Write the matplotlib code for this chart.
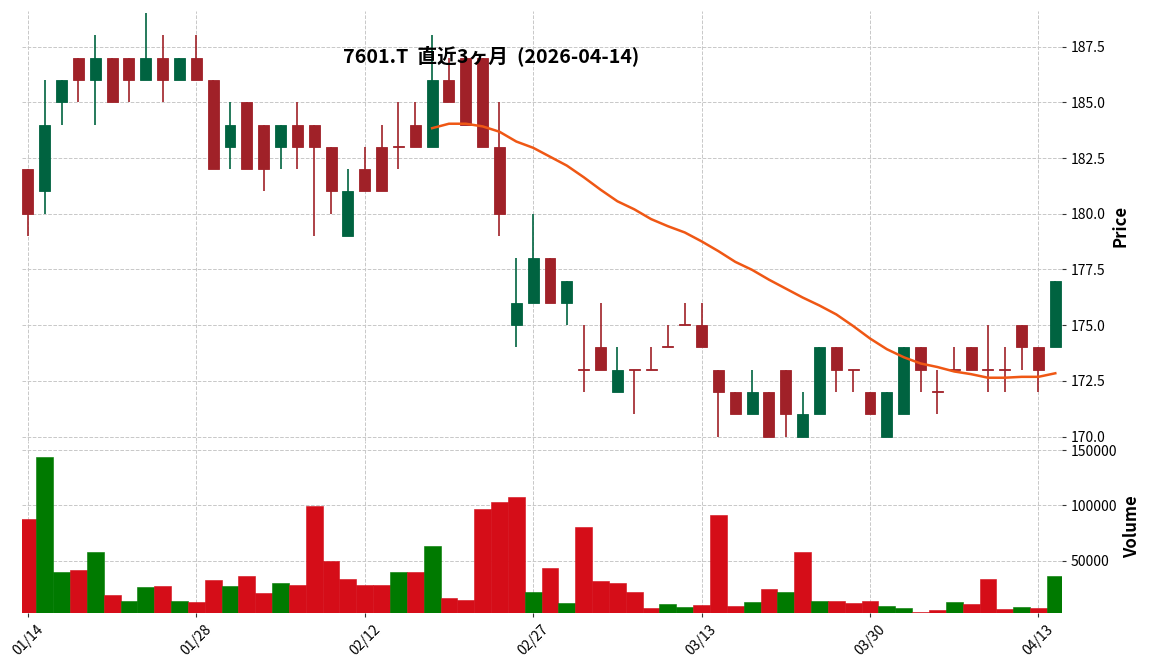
import numpy as np
import pandas as pd
import matplotlib
matplotlib.use('Agg')
import matplotlib.pyplot as plt
from matplotlib.ticker import MultipleLocator, FormatStrFormatter, FixedLocator

plt.rcParams['font.family'] = ['Noto Sans CJK JP', 'DejaVu Sans']

# trading days shown on the chart (Tokyo market)
dates = [
    '2026-01-14', '2026-01-15', '2026-01-16', '2026-01-19', '2026-01-20', '2026-01-21',
    '2026-01-22', '2026-01-23', '2026-01-26', '2026-01-27', '2026-01-28', '2026-01-29',
    '2026-01-30', '2026-02-02', '2026-02-03', '2026-02-04', '2026-02-05', '2026-02-06',
    '2026-02-09', '2026-02-10', '2026-02-12', '2026-02-13', '2026-02-16', '2026-02-17',
    '2026-02-18', '2026-02-19', '2026-02-20', '2026-02-24', '2026-02-25', '2026-02-26',
    '2026-02-27', '2026-03-02', '2026-03-03', '2026-03-04', '2026-03-05', '2026-03-06',
    '2026-03-09', '2026-03-10', '2026-03-11', '2026-03-12', '2026-03-13', '2026-03-16',
    '2026-03-17', '2026-03-18', '2026-03-19', '2026-03-23', '2026-03-24', '2026-03-25',
    '2026-03-26', '2026-03-27', '2026-03-30', '2026-03-31', '2026-04-01', '2026-04-02',
    '2026-04-03', '2026-04-06', '2026-04-07', '2026-04-08', '2026-04-09', '2026-04-10',
    '2026-04-13', '2026-04-14',
]

opens = [182, 181, 185, 187, 186, 187, 187, 186, 187, 186, 187, 186, 183, 185, 184, 183,
         184, 184, 183, 179, 182, 183, 183, 184, 183, 186, 187, 187, 183, 175, 176, 178,
         176, 173, 174, 172, 173, 173, 174, 175, 175, 173, 172, 171, 172, 173, 170, 171,
         174, 173, 172, 170, 171, 174, 172, 173, 174, 173, 173, 175, 174, 174]
highs = [182, 186, 186, 187, 188, 187, 187, 189, 188, 187, 188, 186, 185, 185, 184, 184,
         185, 184, 183, 182, 183, 184, 185, 185, 188, 187, 187, 187, 185, 178, 180, 178,
         177, 175, 176, 174, 173, 174, 175, 176, 176, 173, 172, 173, 172, 173, 172, 174,
         174, 173, 172, 172, 174, 174, 173, 174, 174, 175, 174, 175, 174, 177]
lows = [179, 180, 184, 185, 184, 185, 185, 186, 185, 186, 186, 182, 182, 182, 181, 182,
        182, 179, 180, 179, 181, 181, 182, 183, 183, 185, 184, 183, 179, 174, 176, 176,
        175, 172, 173, 172, 171, 173, 174, 175, 174, 170, 171, 171, 170, 170, 170, 171,
        172, 172, 171, 170, 171, 172, 171, 173, 173, 172, 172, 173, 172, 174]
closes = [180, 184, 186, 186, 187, 185, 186, 187, 186, 187, 186, 182, 184, 182, 182, 184,
          183, 183, 181, 181, 181, 181, 183, 183, 186, 185, 184, 183, 180, 176, 178, 176,
          177, 173, 173, 173, 173, 173, 174, 175, 174, 172, 171, 172, 170, 171, 171, 174,
          173, 173, 171, 172, 174, 173, 172, 173, 173, 173, 173, 174, 173, 177]
volumes = [87600, 143900, 39400, 41200, 57600, 19400, 13900, 25800, 26700, 13900, 13000,
           32100, 26700, 35800, 21200, 29400, 27600, 99400, 49400, 33000, 27600, 27600,
           39400, 39400, 63000, 16700, 14800, 96700, 103000, 107600, 22100, 43000, 12100,
           80300, 31200, 29400, 22100, 7600, 11200, 8500, 10300, 91200, 9400, 13000,
           24800, 22100, 57600, 13900, 13900, 12100, 13900, 9400, 7600, 3900, 5800,
           13000, 11200, 33000, 6700, 8500, 7600, 35800]

title = '7601.T  直近3ヶ月  (2026-04-14)'
mav_period = 25

up_c, down_c = '#006340', '#a02128'
vol_up, vol_down = '#007a00', '#d50d18'
ma_color = '#ef5714'

df = pd.DataFrame({'Open': opens, 'High': highs, 'Low': lows, 'Close': closes,
                   'Volume': volumes}, index=pd.to_datetime(dates))
x = np.arange(len(df))
o = df['Open'].values
c = df['Close'].values
is_up = o < c
ccolors = np.where(is_up, up_c, down_c)
# volume colour follows the previous close
prev_up = np.concatenate([[o[0] < c[0]], c[:-1] < c[1:]])
vcolors = np.where(prev_up, vol_up, vol_down)
ma = df['Close'].rolling(mav_period).mean()

fig = plt.figure(figsize=(11.52, 6.7), dpi=100)
ax = fig.add_axes([0.0191, 0.3418, 0.9028, 0.6418])
axv = fig.add_axes([0.0191, 0.0851, 0.9028, 0.2567], sharex=ax)

for a in (ax, axv):
    for s in a.spines.values():
        s.set_visible(False)
    a.grid(True, linestyle='--', color='#c8c8c8', linewidth=0.7)
    a.set_axisbelow(True)
    a.yaxis.tick_right()
    a.yaxis.set_label_position('right')
    a.tick_params(axis='both', labelsize=10, length=3, color='#333333')

# candles
ax.vlines(x, df['Low'], df['High'], colors=ccolors, linewidth=1.2, zorder=2)
body = np.abs(c - o).astype(float)
body[body == 0] = 0.05
ax.bar(x, body, bottom=np.minimum(o, c), width=0.65, color=ccolors,
       edgecolor=ccolors, linewidth=0.6, zorder=3)
ax.plot(x, ma, color=ma_color, linewidth=1.8, zorder=4)

ax.set_ylim(169.8, 189.1)
ax.yaxis.set_major_locator(MultipleLocator(2.5))
ax.yaxis.set_major_formatter(FormatStrFormatter('%.1f'))
ax.set_ylabel('Price', fontsize=12, fontweight='bold', labelpad=4)
ax.tick_params(axis='x', labelbottom=False, length=0)

# volume
axv.bar(x, df['Volume'], width=1.0, color=vcolors, edgecolor=vcolors, linewidth=0.4)
axv.set_ylim(2700, 1.1 * max(volumes))
axv.yaxis.set_major_locator(FixedLocator([50000, 100000, 150000]))
axv.set_ylabel('Volume', fontsize=12, fontweight='bold', labelpad=4)

tick_idx = [0, 10, 20, 30, 40, 50, 60]
axv.set_xticks(tick_idx)
axv.set_xticklabels([df.index[i].strftime('%m/%d') for i in tick_idx], rotation=45)
axv.set_xlim(-0.35, len(df) - 0.6)

fig.text(0.426, 0.917, title, fontsize=14.2, fontweight='bold', ha='center', va='center')

fig.savefig('out.png', dpi=100)
